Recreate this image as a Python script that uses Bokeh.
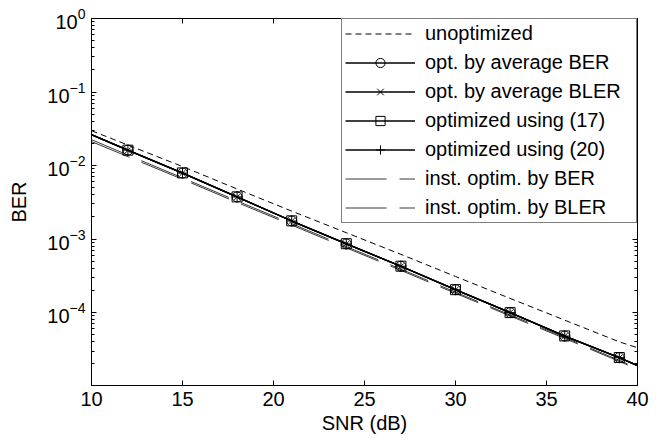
from bokeh.plotting import figure
from bokeh.models import (FixedTicker, LinearAxis, LogAxis, Legend, LegendItem, Range1d)
from bokeh.embed import file_html
from bokeh.resources import INLINE

# ---- data ----
snr_line = [10, 12, 15, 18, 21, 24, 27, 30, 33, 36, 39, 40]
snr_mark = [12, 15, 18, 21, 24, 27, 30, 33, 36, 39]

ber_unopt = [2.98e-2, 1.90e-2, 9.7e-3, 4.8e-3, 2.4e-3, 1.22e-3, 6.2e-4, 3.1e-4, 1.56e-4, 7.9e-5, 4.0e-5, 3.33e-5]
ber_avg_ber = [2.63e-2, 1.62e-2, 7.9e-3, 3.74e-3, 1.76e-3, 8.6e-4, 4.27e-4, 2.05e-4, 1.0e-4, 4.8e-5, 2.44e-5, 1.9e-5]
ber_avg_bler = [2.62e-2, 1.61e-2, 7.9e-3, 3.73e-3, 1.76e-3, 8.6e-4, 4.26e-4, 2.04e-4, 1.0e-4, 4.8e-5, 2.43e-5, 1.9e-5]
ber_opt17 = [2.64e-2, 1.62e-2, 7.95e-3, 3.75e-3, 1.77e-3, 8.65e-4, 4.28e-4, 2.05e-4, 1.0e-4, 4.82e-5, 2.45e-5, 1.91e-5]
ber_opt20 = [2.63e-2, 1.62e-2, 7.9e-3, 3.74e-3, 1.76e-3, 8.6e-4, 4.27e-4, 2.05e-4, 1.0e-4, 4.8e-5, 2.44e-5, 1.9e-5]
ber_inst_ber = [2.25e-2, 1.39e-2, 6.8e-3, 3.3e-3, 1.62e-3, 7.9e-4, 3.9e-4, 1.9e-4, 9.3e-5, 4.6e-5, 2.24e-5, 1.75e-5]
ber_inst_bler = [2.12e-2, 1.32e-2, 6.5e-3, 3.15e-3, 1.55e-3, 7.6e-4, 3.75e-4, 1.83e-4, 9.0e-5, 4.45e-5, 2.17e-5, 1.7e-5]

x_ticks = [10, 15, 20, 25, 30, 35, 40]
y_ticks = [1e-4, 1e-3, 1e-2, 1e-1, 1e0]
y_minor = [k * 10.0 ** e for e in range(-5, 0) for k in range(2, 10)]

legend_labels = ["unoptimized", "opt. by average BER", "opt. by average BLER",
                 "optimized using (17)", "optimized using (20)",
                 "inst. optim. by BER", "inst. optim. by BLER"]

FONT = "Liberation Sans"
FS = "20px"

# ---- figure ----
p = figure(width=667, height=442, y_axis_type="log",
           x_range=Range1d(10, 40), y_range=Range1d(1.02e-5, 1.0),
           output_backend="svg", toolbar_location=None,
           min_border_left=91, min_border_right=30, min_border_top=18, min_border_bottom=57)
p.background_fill_color = "white"
p.border_fill_color = "white"
p.outline_line_color = "black"
p.outline_line_width = 1
p.xgrid.visible = False
p.ygrid.visible = False

def mark_vals(vals):
    return [vals[snr_line.index(s)] for s in snr_mark]

r_unopt = p.line(snr_line, ber_unopt, line_color="black", line_width=1, line_dash="6 4")

r_i1 = p.line(snr_line, ber_inst_ber, line_color="#222222", line_width=0.9, line_dash="41 13")
r_i2 = p.line(snr_line, ber_inst_bler, line_color="#222222", line_width=0.9, line_dash="41 13")

r_l1 = p.line(snr_line, ber_avg_ber, line_color="black", line_width=1.3)
r_m1 = p.scatter(snr_mark, mark_vals(ber_avg_ber), marker="circle", size=10,
                 fill_color=None, line_color="black", line_width=1)
r_l2 = p.line(snr_line, ber_avg_bler, line_color="black", line_width=1.3)
r_m2 = p.scatter(snr_mark, mark_vals(ber_avg_bler), marker="x", size=8,
                 line_color="black", line_width=1)
r_l3 = p.line(snr_line, ber_opt17, line_color="black", line_width=1.3)
r_m3 = p.scatter(snr_mark, mark_vals(ber_opt17), marker="square", size=10,
                 fill_color=None, line_color="black", line_width=1)
r_l4 = p.line(snr_line, ber_opt20, line_color="black", line_width=1.3)
r_m4 = p.scatter(snr_mark, mark_vals(ber_opt20), marker="cross", size=11,
                 line_color="black", line_width=1)

# ---- axes ----
p.xaxis[0].ticker = FixedTicker(ticks=x_ticks)
p.yaxis[0].ticker = FixedTicker(ticks=y_ticks, minor_ticks=y_minor)

def style_axis(ax, labels=True):
    ax.axis_line_color = "black"
    ax.axis_line_width = 1
    ax.major_tick_in = 5
    ax.major_tick_out = 0
    ax.minor_tick_in = 3
    ax.minor_tick_out = 0
    ax.major_tick_line_color = "black"
    ax.minor_tick_line_color = "black"
    ax.major_label_text_font = FONT
    ax.major_label_text_font_size = FS
    ax.major_label_text_color = "black" if labels else None
    ax.axis_label_text_font = FONT
    ax.axis_label_text_font_size = FS
    ax.axis_label_text_font_style = "normal"
    ax.axis_label_text_color = "black"

style_axis(p.xaxis[0])
style_axis(p.yaxis[0])
p.xaxis[0].minor_tick_in = 0
p.xaxis[0].axis_label = "SNR (dB)"
p.xaxis[0].major_label_standoff = 6
p.xaxis[0].axis_label_standoff = 3
p.yaxis[0].axis_label = "BER"
p.yaxis[0].major_label_standoff = 6
p.yaxis[0].axis_label_standoff = 14

top = LinearAxis(ticker=FixedTicker(ticks=x_ticks))
style_axis(top, labels=False)
top.minor_tick_in = 0
top.major_label_text_font_size = "0px"
p.add_layout(top, "above")

right = LogAxis(ticker=FixedTicker(ticks=y_ticks, minor_ticks=y_minor))
style_axis(right, labels=False)
right.major_label_text_font_size = "0px"
p.add_layout(right, "right")

# ---- legend ----
items = [
    LegendItem(label=legend_labels[0], renderers=[r_unopt]),
    LegendItem(label=legend_labels[1], renderers=[r_l1, r_m1]),
    LegendItem(label=legend_labels[2], renderers=[r_l2, r_m2]),
    LegendItem(label=legend_labels[3], renderers=[r_l3, r_m3]),
    LegendItem(label=legend_labels[4], renderers=[r_l4, r_m4]),
    LegendItem(label=legend_labels[5], renderers=[r_i1]),
    LegendItem(label=legend_labels[6], renderers=[r_i2]),
]
legend = Legend(items=items, location="top_right", margin=0, padding=3,
                glyph_width=70, glyph_height=23, label_height=23, label_width=208,
                spacing=6, label_standoff=10, label_text_font=FONT, label_text_font_size=FS,
                label_text_color="black", border_line_color="black", border_line_width=1,
                background_fill_color="white", background_fill_alpha=1)
p.add_layout(legend)

open("out.html", "w").write(file_html(p, INLINE))
